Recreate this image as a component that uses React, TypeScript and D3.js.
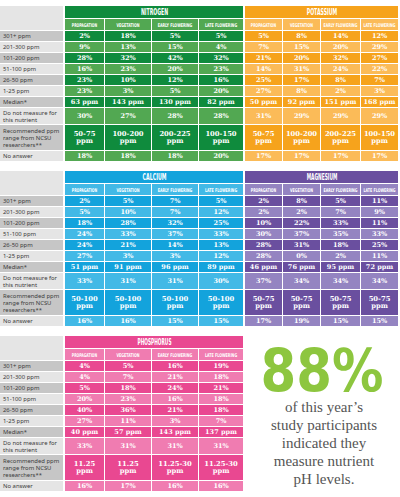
import React from "react";
import * as d3 from "d3";

// Column + row headings
const stages = ["PROPAGATION", "VEGETATION", "EARLY FLOWERING", "LATE FLOWERING"];
const rowLabels = [
  ["301+ ppm"],
  ["201-300 ppm"],
  ["101-200 ppm"],
  ["51-100 ppm"],
  ["26-50 ppm"],
  ["1-25 ppm"],
  ["Median*"],
  ["Do not measure for", "this nutrient"],
  ["Recommended ppm", "range from NCSU", "researchers**"],
  ["No answer"],
];
const rowWeights = [11, 11, 11, 11, 11, 11, 11, 17, 26, 11];

// % of growers per ppm bracket (301+ down to 1-25), per stage
const nitrogenPct = [[2, 18, 5, 5], [9, 13, 15, 4], [28, 32, 42, 32], [16, 23, 20, 23], [23, 10, 12, 16], [23, 3, 5, 20]];
const nitrogenMedian = [63, 143, 130, 82];
const nitrogenNotMeasured = [30, 27, 28, 28];
const nitrogenRange = ["50-75", "100-200", "200-225", "100-150"];
const nitrogenNoAnswer = [18, 18, 18, 20];

const potassiumPct = [[5, 8, 14, 12], [7, 15, 20, 29], [21, 20, 32, 27], [14, 31, 24, 22], [25, 17, 8, 7], [27, 8, 2, 3]];
const potassiumMedian = [50, 92, 151, 168];
const potassiumNotMeasured = [31, 29, 29, 29];
const potassiumRange = ["50-75", "100-200", "200-225", "100-150"];
const potassiumNoAnswer = [17, 17, 17, 17];

const calciumPct = [[2, 5, 7, 5], [5, 10, 7, 12], [18, 28, 32, 25], [24, 33, 37, 33], [24, 21, 14, 13], [27, 3, 3, 12]];
const calciumMedian = [51, 91, 96, 89];
const calciumNotMeasured = [33, 31, 31, 30];
const calciumRange = ["50-100", "50-100", "50-100", "50-100"];
const calciumNoAnswer = [16, 16, 15, 15];

const magnesiumPct = [[2, 8, 5, 11], [2, 2, 7, 9], [10, 22, 33, 11], [30, 37, 35, 33], [28, 31, 18, 25], [28, 0, 2, 11]];
const magnesiumMedian = [46, 76, 95, 72];
const magnesiumNotMeasured = [37, 34, 34, 34];
const magnesiumRange = ["50-75", "50-75", "50-75", "50-75"];
const magnesiumNoAnswer = [17, 19, 15, 15];

const phosphorusPct = [[4, 5, 16, 19], [4, 7, 21, 18], [5, 18, 24, 21], [20, 23, 16, 18], [40, 36, 21, 18], [27, 11, 3, 7]];
const phosphorusMedian = [40, 57, 143, 137];
const phosphorusNotMeasured = [33, 31, 31, 31];
const phosphorusRange = ["11.25", "11.25", "11.25-30", "11.25-30"];
const phosphorusNoAnswer = [16, 17, 16, 16];

const calloutLines = ["of this year\u2019s", "study participants", "indicated they", "measure nutrient", "pH levels."];

const buildRows = (pct: number[][], median: number[], notMeasured: number[], range: string[], noAnswer: number[]) => [
  ...pct.map(r => r.map(v => [`${v}%`])),
  median.map(v => [`${v} ppm`]),
  notMeasured.map(v => [`${v}%`]),
  range.map(v => [v, "ppm"]),
  noAnswer.map(v => [`${v}%`]),
];

const leftCols = [40, 47, 47, 45];
const rightCols = [38, 38, 40, 38];

const headFont = "'DejaVu Sans Condensed', 'DejaVu Sans', sans-serif";
const valueFont = "'DejaVu Serif', serif";

interface PanelProps {
  name: string;
  top: number;
  x0: number;
  x1: number;
  cols: number[];
  dark: string;
  light: string;
  rows: string[][][];
}

const rowScale = (top: number) =>
  d3.scaleLinear().domain([0, d3.sum(rowWeights)]).range([top + 25, top + 156]);
const rowEdges = [0, ...Array.from(d3.cumsum(rowWeights))];

const Panel: React.FC<PanelProps> = ({ name, top, x0, x1, cols, dark, light, rows }) => {
  const x = d3.scaleLinear().domain([0, d3.sum(cols)]).range([x0, x1]);
  const colEdges = [0, ...Array.from(d3.cumsum(cols))];
  const y = rowScale(top);

  return (
    <g>
      <rect x={x0} y={top} width={x1 - x0 - 1} height={12} fill={dark} />
      <text x={(x0 + x1) / 2} y={top + 6.5} textAnchor="middle" dominantBaseline="central"
        fill="#fff" fontFamily={headFont} fontWeight="bold" fontSize={8}
        textLength={name.length * 3.4} lengthAdjust="spacingAndGlyphs">{name}</text>
      {stages.map((s, i) => {
        const cx0 = x(colEdges[i]);
        const cx1 = x(colEdges[i + 1]);
        const w = cx1 - cx0 - 1;
        return (
          <g key={s}>
            <rect x={cx0} y={top + 13} width={w} height={11} fill={light} />
            <text x={cx0 + w / 2} y={top + 18.8} textAnchor="middle" dominantBaseline="central"
              fill="#fff" fontFamily={headFont} fontWeight="bold" fontSize={5.2}
              textLength={Math.min(s.length * 2.3, w - 5)} lengthAdjust="spacingAndGlyphs">{s}</text>
          </g>
        );
      })}
      {rows.map((row, r) => {
        const ry0 = y(rowEdges[r]);
        const ry1 = y(rowEdges[r + 1]);
        const cy = (ry0 + ry1 - 1) / 2;
        return row.map((lines, c) => {
          const cx0 = x(colEdges[c]);
          const cx1 = x(colEdges[c + 1]);
          return (
            <g key={`${r}-${c}`}>
              <rect x={cx0} y={ry0} width={cx1 - cx0 - 1} height={ry1 - ry0 - 1} fill={r % 2 === 0 ? dark : light} />
              {lines.map((t, li) => (
                <text key={li} x={(cx0 + cx1 - 1) / 2} y={cy + (li - (lines.length - 1) / 2) * 7.6}
                  textAnchor="middle" dominantBaseline="central" fill="#fff"
                  fontFamily={valueFont} fontWeight="bold" fontSize={lines.length > 1 ? 6.8 : 6.5}>{t}</text>
              ))}
            </g>
          );
        });
      })}
    </g>
  );
};

const LabelColumn: React.FC<{ top: number }> = ({ top }) => {
  const y = rowScale(top);
  return (
    <g>
      <rect x={0} y={top} width={63} height={24} fill="#e5e5e5" />
      {rowLabels.map((lines, r) => {
        const ry0 = y(rowEdges[r]);
        const ry1 = y(rowEdges[r + 1]);
        const cy = (ry0 + ry1 - 1) / 2;
        return (
          <g key={r}>
            <rect x={0} y={ry0} width={63} height={ry1 - ry0 - 1} fill={r % 2 === 0 ? "#c6c6c6" : "#e5e5e5"} />
            {lines.map((t, li) => (
              <text key={li} x={3} y={cy + (li - (lines.length - 1) / 2) * 7}
                dominantBaseline="central" fill="#3a3a3a"
                fontFamily="'Noto Sans', sans-serif" fontSize={5.9}>{t}</text>
            ))}
          </g>
        );
      })}
    </g>
  );
};

const App: React.FC = () => {
  return (
    <svg width={400} height={497} style={{ position: "absolute", left: 0, top: 0, background: "#fff" }}>
      {[6, 171, 336].map(t => <LabelColumn key={t} top={t} />)}
      <Panel name="NITROGEN" top={6} x0={65} x1={244} cols={leftCols} dark="#0f8b3d" light="#52a852"
        rows={buildRows(nitrogenPct, nitrogenMedian, nitrogenNotMeasured, nitrogenRange, nitrogenNoAnswer)} />
      <Panel name="POTASSIUM" top={6} x0={245} x1={399} cols={rightCols} dark="#f6a31c" light="#fbbb58"
        rows={buildRows(potassiumPct, potassiumMedian, potassiumNotMeasured, potassiumRange, potassiumNoAnswer)} />
      <Panel name="CALCIUM" top={171} x0={65} x1={244} cols={leftCols} dark="#13a3dc" light="#42b9e6"
        rows={buildRows(calciumPct, calciumMedian, calciumNotMeasured, calciumRange, calciumNoAnswer)} />
      <Panel name="MAGNESIUM" top={171} x0={245} x1={399} cols={rightCols} dark="#6a4f9f" light="#9484c1"
        rows={buildRows(magnesiumPct, magnesiumMedian, magnesiumNotMeasured, magnesiumRange, magnesiumNoAnswer)} />
      <Panel name="PHOSPHORUS" top={336} x0={65} x1={244} cols={leftCols} dark="#e94891" light="#f07cb1"
        rows={buildRows(phosphorusPct, phosphorusMedian, phosphorusNotMeasured, phosphorusRange, phosphorusNoAnswer)} />

      <text x={322} y={391} textAnchor="middle" fill="#8dc63f" fontFamily="'DejaVu Sans', sans-serif"
        fontWeight="bold" fontSize={58} textLength={123} lengthAdjust="spacingAndGlyphs">88%</text>
      {calloutLines.map((t, i) => (
        <text key={t} x={324} y={412 + i * 18} textAnchor="middle" fill="#555"
          fontFamily="'Liberation Serif', serif" fontSize={15}>{t}</text>
      ))}
    </svg>
  );
};

export default App;
